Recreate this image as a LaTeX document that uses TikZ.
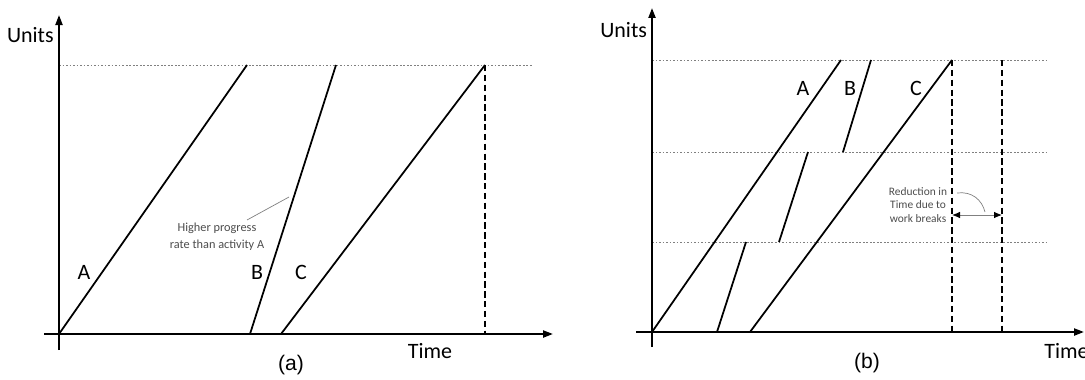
\documentclass[tikz,border=0pt]{standalone}
\usepackage{fontspec}
\setmainfont{Carlito}
\newfontfamily\capfont{Liberation Sans}
\usetikzlibrary{arrows.meta}

\begin{document}
\begin{tikzpicture}[
  x=0.02cm, y=-0.02cm,
  ax/.style={line width=1.2pt, -{Triangle[length=2mm, width=1.4mm]}},
  act/.style={line width=1pt},
  guide/.style={gray, line width=0.4pt, dash pattern=on 1pt off 1pt},
  finish/.style={line width=1.1pt, dash pattern=on 3.6pt off 2pt},
  lead/.style={gray, line width=0.4pt},
  lbl/.style={font=\fontsize{12.5}{14}\selectfont, inner sep=0pt},
  note/.style={font=\fontsize{6.5}{7.5}\selectfont, text=black!70, align=center, inner sep=0pt},
  panelcap/.style={font=\capfont\fontsize{12}{14}\selectfont, inner sep=0pt}
]
  \useasboundingbox (0,0) rectangle (1085,379);

  %--- Panel (a) ---
  \coordinate (a-bot)   at (59,350);
  \coordinate (a-top)   at (59,15);
  \coordinate (a-left)  at (44,334);
  \coordinate (a-right) at (553,334);
  \coordinate (a-g0)    at (59,65);
  \coordinate (a-g1)    at (532,65);
  \coordinate (a-A0) at (59,334);  \coordinate (a-A1) at (247,65);
  \coordinate (a-B0) at (250,334); \coordinate (a-B1) at (336,65);
  \coordinate (a-C0) at (281,334); \coordinate (a-C1) at (485,65);
  \coordinate (a-end) at (485,334);
  \coordinate (a-n0) at (247,220); \coordinate (a-n1) at (289,197);

  \draw[guide] (a-g0) -- (a-g1);
  \draw[ax] (a-bot) -- (a-top);
  \draw[ax] (a-left) -- (a-right);
  \draw[act] (a-A0) -- (a-A1);
  \draw[act] (a-B0) -- (a-B1);
  \draw[act] (a-C0) -- (a-C1);
  \draw[finish] (a-C1) -- (a-end);
  \draw[lead] (a-n0) -- (a-n1);

  \node[lbl, anchor=east] (a-units) at (54,35) {Units};
  \node[lbl] (a-time) at (430,351) {Time};
  \node[lbl] (a-la) at (84,272)  {A};
  \node[lbl] (a-lb) at (257,272) {B};
  \node[lbl] (a-lc) at (301,272) {C};
  \node[note, font=\fontsize{7}{9.5}\selectfont] (a-note) at (217,237)
    {Higher progress\\rate than activity A};
  \node[panelcap] (a-cap) at (291,365) {(a)};

  %--- Panel (b) ---
  \coordinate (b-bot)   at (652,347);
  \coordinate (b-top)   at (652,8);
  \coordinate (b-left)  at (636,332);
  \coordinate (b-right) at (1084,332);
  \coordinate (b-A0)  at (652,332); \coordinate (b-A1)  at (841,60);
  \coordinate (b-B0)  at (717,332); \coordinate (b-B1)  at (746,242);
  \coordinate (b-B2)  at (779,242); \coordinate (b-B3)  at (808,152);
  \coordinate (b-B4)  at (843,152); \coordinate (b-B5)  at (871,60);
  \coordinate (b-C0)  at (750,332); \coordinate (b-C1)  at (952,60);
  \coordinate (b-e1)  at (952,332);
  \coordinate (b-f0)  at (1002,60); \coordinate (b-f1)  at (1002,332);
  \coordinate (b-m0)  at (952,215); \coordinate (b-m1)  at (1002,215);
  \coordinate (b-n0)  at (957,193); \coordinate (b-n1)  at (985,212);

  % Horizontal dotted guides
  \foreach \gy/\gn in {60/0, 152/1, 242/2} {
    \coordinate (b-g\gn l) at (652,\gy);
    \coordinate (b-g\gn r) at (1048,\gy);
    \draw[guide] (b-g\gn l) -- (b-g\gn r);
  }
  \draw[ax] (b-bot) -- (b-top);
  \draw[ax] (b-left) -- (b-right);
  \draw[act] (b-A0) -- (b-A1);
  \draw[act] (b-B0) -- (b-B1);
  \draw[act] (b-B2) -- (b-B3);
  \draw[act] (b-B4) -- (b-B5);
  \draw[act] (b-C0) -- (b-C1);
  \draw[finish] (b-C1) -- (b-e1);
  \draw[finish] (b-f0) -- (b-f1);
  \draw[gray, line width=0.5pt,
        {Latex[black, length=1.6mm, width=1.3mm]}-{Latex[black, length=1.6mm, width=1.3mm]}]
    (b-m0) -- (b-m1);
  \draw[lead] (b-n0) .. controls (972,191) and (982,200) .. (b-n1);

  \node[lbl, anchor=west] (b-units) at (600,30) {Units};
  \node[lbl, anchor=west] (b-time) at (1044,351) {Time};
  \node[lbl] (b-la) at (803,88) {A};
  \node[lbl] (b-lb) at (850,88) {B};
  \node[lbl] (b-lc) at (916,88) {C};
  \node[note] (b-note) at (918,205) {Reduction in\\Time due to\\work breaks};
  \node[panelcap] (b-cap) at (867,363) {(b)};
\end{tikzpicture}
\end{document}
